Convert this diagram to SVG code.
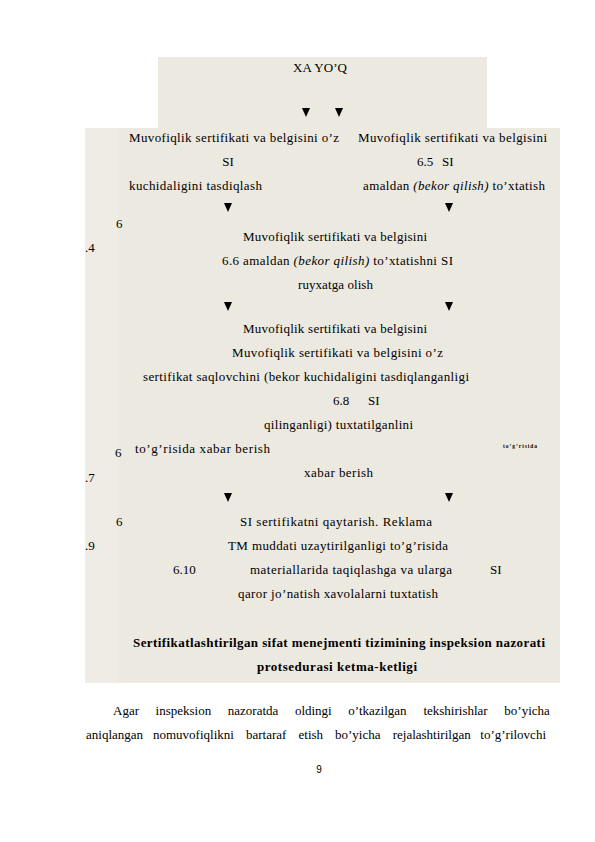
<svg xmlns="http://www.w3.org/2000/svg" width="595" height="842" viewBox="0 0 595 842">
<defs>
<style>
.t{font-family:"Liberation Serif","Times New Roman",serif;font-size:13px;fill:#000}
.b{font-weight:bold}
.i{font-style:italic}
.p{font-family:"Liberation Serif","Times New Roman",serif;font-size:13px;fill:#000}
.pg{font-family:"Liberation Sans",Arial,sans-serif;font-size:10px;fill:#000}
.bg{fill:#ECE9E0}
.bg2{fill:#EEECE4}
.ar{fill:#000}
</style>
<polygon id="tri" points="-4,0 4,0 0,9"/>
</defs>
<rect width="595" height="842" fill="#fff"/>
<g id="background">
<rect class="bg" x="158" y="57" width="329" height="71"/>
<rect class="bg" x="85" y="128" width="475" height="555"/>
<rect class="bg2" x="85" y="128" width="33" height="555"/>
</g>
<g id="n_xa">
<text class="t" x="293" y="72" textLength="54">XA YO’Q</text>
</g>
<g id="n_left1">
<text class="t" x="129" y="142" textLength="210">Muvofiqlik sertifikati va belgisini o’z</text>
<text class="t" x="228" y="166" text-anchor="middle">SI</text>
<text class="t" x="129" y="190" textLength="133">kuchidaligini tasdiqlash</text>
</g>
<g id="n_65">
<text class="t" x="358" y="142" textLength="189">Muvofiqlik sertifikati va belgisini</text>
<text class="t" x="417" y="166">6.5</text>
<text class="t" x="442" y="166">SI</text>
<text class="t" x="363" y="190" textLength="182">amaldan <tspan class="i">(bekor qilish)</tspan> to’xtatish</text>
</g>
<g id="n_66">
<text class="t" x="116" y="228">6</text>
<text class="t" x="85" y="252">.4</text>
<text class="t" x="243" y="241" textLength="184">Muvofiqlik sertifikati va belgisini</text>
<text class="t" x="222" y="265" textLength="231">6.6 amaldan <tspan class="i">(bekor qilish)</tspan> to’xtatishni  SI</text>
<text class="t" x="298" y="289" textLength="75">ruyxatga olish</text>
</g>
<g id="n_68">
<text class="t" x="243" y="333" textLength="184">Muvofiqlik sertifikati va belgisini</text>
<text class="t" x="232" y="357" textLength="211">Muvofiqlik sertifikati va belgisini o’z</text>
<text class="t" x="143" y="381" textLength="326">sertifikat saqlovchini (bekor kuchidaligini tasdiqlanganligi</text>
<text class="t" x="333" y="405">6.8</text>
<text class="t" x="368" y="405">SI</text>
<text class="t" x="264" y="429" textLength="149">qilinganligi) tuxtatilganlini</text>
<text class="t" x="115" y="457">6</text>
<text class="t" x="135" y="453" textLength="135">to’g’risida xabar berish</text>
<text class="t" x="503" y="448" style="font-size:5.5px;font-weight:bold" textLength="34">to’g’risida</text>
<text class="t" x="85" y="482">.7</text>
<text class="t" x="304" y="477" textLength="69">xabar berish</text>
</g>
<g id="n_610">
<text class="t" x="116" y="526">6</text>
<text class="t" x="240" y="526" textLength="192">SI sertifikatni qaytarish. Reklama</text>
<text class="t" x="85" y="550">.9</text>
<text class="t" x="228" y="550" textLength="220">TM muddati uzaytirilganligi to’g’risida</text>
<text class="t" x="173" y="574">6.10</text>
<text class="t" x="250" y="574" textLength="202">materiallarida taqiqlashga va ularga</text>
<text class="t" x="490" y="574">SI</text>
<text class="t" x="238" y="598" textLength="200">qaror jo’natish xavolalarni tuxtatish</text>
</g>
<g id="caption">
<text class="t b" x="133" y="647" textLength="412">Sertifikatlashtirilgan sifat menejmenti tizimining inspeksion nazorati</text>
<text class="t b" x="257" y="671" textLength="160">protsedurasi ketma-ketligi</text>
</g>
<g id="connectors">
<use href="#tri" class="ar" x="306" y="108"/>
<use href="#tri" class="ar" x="339" y="108"/>
<use href="#tri" class="ar" x="228" y="203"/>
<use href="#tri" class="ar" x="449" y="203"/>
<use href="#tri" class="ar" x="228" y="302"/>
<use href="#tri" class="ar" x="449" y="302"/>
<use href="#tri" class="ar" x="228" y="493"/>
<use href="#tri" class="ar" x="449" y="493"/>
</g>
<g id="paragraph">
<text class="p" y="715"><tspan x="113">Agar</tspan><tspan x="155.6">inspeksion</tspan><tspan x="227.8">nazoratda</tspan><tspan x="294.9">oldingi</tspan><tspan x="348.3">o’tkazilgan</tspan><tspan x="423.4">tekshirishlar</tspan><tspan x="504.3">bo’yicha</tspan></text>
<text class="p" y="739"><tspan x="86">aniqlangan</tspan><tspan x="153">nomuvofiqlikni</tspan><tspan x="246">bartaraf</tspan><tspan x="298.5">etish</tspan><tspan x="335">bo’yicha</tspan><tspan x="392.7">rejalashtirilgan</tspan><tspan x="480.3">to’g’rilovchi</tspan></text>
<text class="pg" x="319" y="773" text-anchor="middle">9</text>
</g>
</svg>
